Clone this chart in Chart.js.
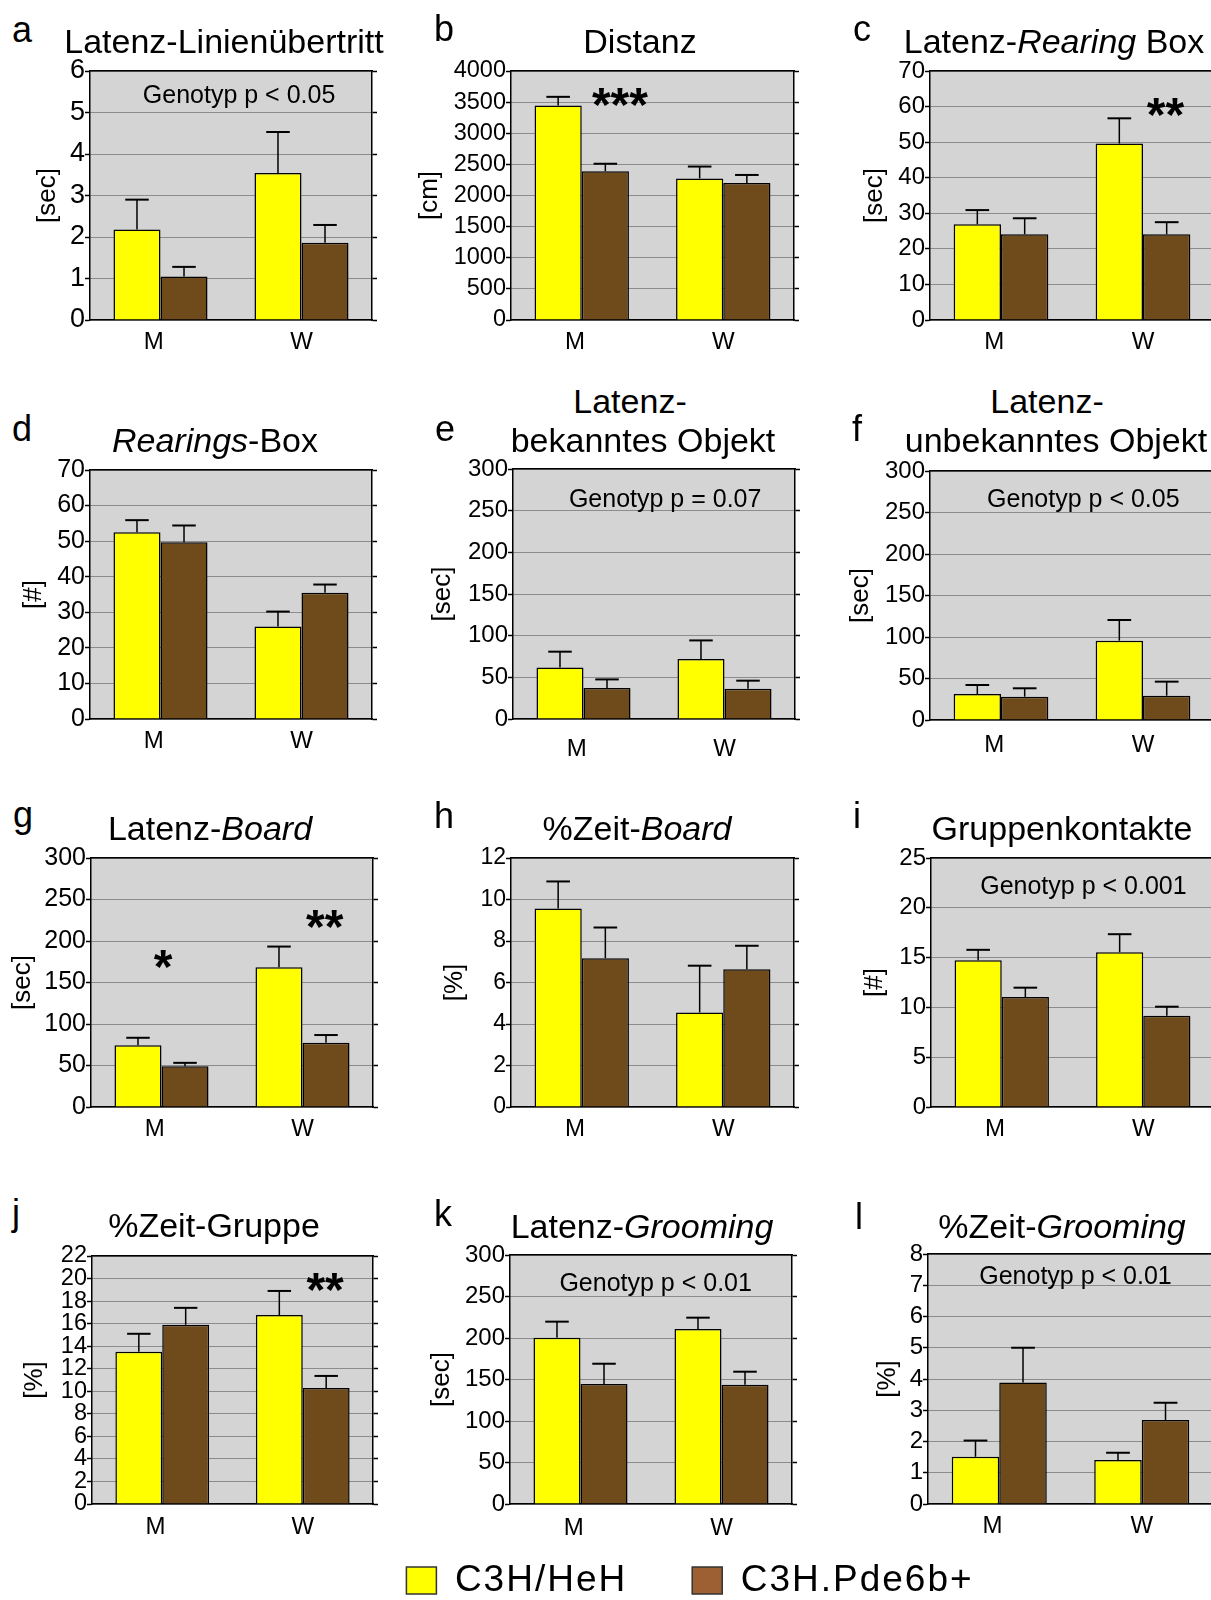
<!DOCTYPE html>
<html><head><meta charset="utf-8">
<script src="https://cdn.jsdelivr.net/npm/chart.js@4/dist/chart.umd.min.js"></script>
<style>
html,body{margin:0;padding:0;background:#fff;overflow:hidden;width:1211px;height:1600px;}
body{position:relative;font-family:"Liberation Sans",Arial,sans-serif;color:#000;}
canvas{position:absolute;}
.t{position:absolute;font-size:34px;line-height:34px;white-space:nowrap;transform:translateX(-50%);z-index:2;}
.l{position:absolute;font-size:36px;line-height:36px;z-index:2;}
i{font-style:italic;}
</style></head><body>
<div class="l" style="left:12px;top:12px">a</div>
<div class="t" style="left:224px;top:24px">Latenz-Linienübertritt</div>
<div class="l" style="left:434px;top:11px">b</div>
<div class="t" style="left:640px;top:24px">Distanz</div>
<div class="l" style="left:853px;top:11px">c</div>
<div class="t" style="left:1054px;top:24px">Latenz-<i>Rearing</i> Box</div>

<div class="l" style="left:12px;top:411px">d</div>
<div class="t" style="left:215px;top:423px"><i>Rearings</i>-Box</div>
<div class="l" style="left:435px;top:411px">e</div>
<div class="t" style="left:630px;top:384px">Latenz-</div>
<div class="t" style="left:643px;top:423px">bekanntes Objekt</div>
<div class="l" style="left:852px;top:411px">f</div>
<div class="t" style="left:1047px;top:384px">Latenz-</div>
<div class="t" style="left:1056px;top:423px">unbekanntes Objekt</div>

<div class="l" style="left:13px;top:797px">g</div>
<div class="t" style="left:210px;top:811px">Latenz-<i>Board</i></div>
<div class="l" style="left:434px;top:798px">h</div>
<div class="t" style="left:637px;top:811px">%Zeit-<i>Board</i></div>
<div class="l" style="left:853px;top:798px">i</div>
<div class="t" style="left:1062px;top:811px">Gruppenkontakte</div>

<div class="l" style="left:12px;top:1195px">j</div>
<div class="t" style="left:214px;top:1208px">%Zeit-Gruppe</div>
<div class="l" style="left:434px;top:1196px">k</div>
<div class="t" style="left:642px;top:1209px">Latenz-<i>Grooming</i></div>
<div class="l" style="left:855px;top:1199px">l</div>
<div class="t" style="left:1062px;top:1209px">%Zeit-<i>Grooming</i></div>

<script>
// ---------- data ----------
const categories = ['M', 'W'];
const seriesNames = ['C3H/HeH', 'C3H.Pde6b+'];

// a Latenz-Linienübertritt
const aHeH = [2.18, 3.54], aHeHErr = [0.72, 0.99];
const aPde = [1.05, 1.86], aPdeErr = [0.23, 0.43];
// b Distanz
const bHeH = [3445, 2275], bHeHErr = [140, 190];
const bPde = [2390, 2200], bPdeErr = [120, 130];
// c Latenz-Rearing Box
const cHeH = [26.9, 49.6], cHeHErr = [4.0, 7.1];
const cPde = [24.1, 24.1], cPdeErr = [4.5, 3.4];
// d Rearings-Box
const dHeH = [52.5, 26.0], dHeHErr = [3.4, 4.2];
const dPde = [49.7, 35.5], dPdeErr = [4.7, 2.3];
// e Latenz-bekanntes Objekt
const eHeH = [61.9, 72.0], eHeHErr = [18.9, 22.3];
const ePde = [37.2, 36.4], ePdeErr = [10.3, 9.6];
// f Latenz-unbekanntes Objekt
const fHeH = [31.3, 95.6], fHeHErr = [10.9, 24.9];
const fPde = [28.1, 29.3], fPdeErr = [10.1, 16.9];
// g Latenz-Board
const gHeH = [74.5, 168.4], gHeHErr = [8.9, 24.9];
const gPde = [49.2, 77.4], gPdeErr = [4.0, 9.3];
// h %Zeit-Board
const hHeH = [9.57, 4.56], hHeHErr = [1.30, 2.25];
const hPde = [7.17, 6.64], hPdeErr = [1.48, 1.13];
// i Gruppenkontakte
const iHeH = [14.74, 15.54], iHeHErr = [1.04, 1.81];
const iPde = [11.04, 9.16], iPdeErr = [0.94, 0.91];
// j %Zeit-Gruppe
const jHeH = [13.5, 16.77], jHeHErr = [1.6, 2.13];
const jPde = [15.9, 10.3], jPdeErr = [1.5, 1.06];
// k Latenz-Grooming
const kHeH = [200.4, 210.8], kHeHErr = [19.3, 13.7];
const kPde = [144.6, 143.8], kPdeErr = [24.4, 15.6];
// l %Zeit-Grooming
const lHeH = [1.51, 1.41], lHeHErr = [0.52, 0.23];
const lPde = [3.89, 2.69], lPdeErr = [1.11, 0.55];

// axes (tick ranges and units)
const yMaxes = [6, 4000, 70, 70, 300, 300, 300, 12, 25, 22, 300, 8];
const ySteps = [1, 500, 10, 10, 50, 50, 50, 2, 5, 2, 50, 1];
const yUnits = ['[sec]', '[cm]', '[sec]', '[#]', '[sec]', '[sec]', '[sec]', '[%]', '[#]', '[%]', '[sec]', '[%]'];

// statistics notes
const notes = [
  ['Genotyp p < 0.05'], ['***'], ['**'], [], ['Genotyp p = 0.07'], ['Genotyp p < 0.05'],
  ['*', '**'], [], ['Genotyp p < 0.001'], ['**'], ['Genotyp p < 0.01'], ['Genotyp p < 0.01']
];

// ---------- layout (positions / sizes only) ----------
const layoutCfg = [
  {L:90,  T:71,   W:282, H:249, tf:27,   xPad:8,    tp:42.4, at:[[0.557,5.44]]},
  {L:511, T:71,   W:283, H:249, tf:23.5, xPad:8,    tp:3.4,  at:[[0.27,3642]]},
  {L:930, T:71,   W:284, H:249, tf:24,   xPad:8,    tp:29.4, at:[[1.158,60.9]]},
  {L:90,  T:470,  W:282, H:249, tf:25,   xPad:8,    tp:28.4, at:[]},
  {L:513, T:469,  W:282, H:250, tf:24,   xPad:15.6, tp:13.9, at:[[0.579,265]]},
  {L:930, T:471,  W:284, H:249, tf:24,   xPad:10.6, tp:15.4, at:[[0.58,267]]},
  {L:91,  T:858,  W:282, H:249, tf:25,   xPad:8,    tp:15.9, at:[[0.012,183],[1.157,231.6]]},
  {L:511, T:858,  W:283, H:249, tf:23,   xPad:8,    tp:28.4, at:[]},
  {L:931, T:858,  W:283, H:249, tf:24,   xPad:8,    tp:28.4, at:[[0.577,22.3]]},
  {L:92,  T:1256, W:281, H:248, tf:23.5, xPad:8.6,  tp:27.4, at:[[1.159,20.0]]},
  {L:510, T:1255, W:282, H:249, tf:24,   xPad:9.6,  tp:16.4, at:[[0.533,267.8]]},
  {L:928, T:1254, W:285, H:250, tf:24,   xPad:8,    tp:44.0, at:[[0.535,7.32]]}
];

const panelData = [
  [aHeH, aHeHErr, aPde, aPdeErr], [bHeH, bHeHErr, bPde, bPdeErr], [cHeH, cHeHErr, cPde, cPdeErr],
  [dHeH, dHeHErr, dPde, dPdeErr], [eHeH, eHeHErr, ePde, ePdeErr], [fHeH, fHeHErr, fPde, fPdeErr],
  [gHeH, gHeHErr, gPde, gPdeErr], [hHeH, hHeHErr, hPde, hPdeErr], [iHeH, iHeHErr, iPde, iPdeErr],
  [jHeH, jHeHErr, jPde, jPdeErr], [kHeH, kHeHErr, kPde, kPdeErr], [lHeH, lHeHErr, lPde, lPdeErr]
];

const FONT = '"Liberation Sans", Arial, Helvetica, sans-serif';
Chart.defaults.font.family = FONT;
Chart.defaults.color = '#000';
const YELLOW = '#FFFF00', BROWN = '#6F4A1B', PLOTBG = '#D4D4D4';

const bgPlugin = {id:'plotbg', beforeDraw(chart){
  const a = chart.chartArea, ctx = chart.ctx;
  ctx.save(); ctx.fillStyle = PLOTBG; ctx.fillRect(a.left, a.top, a.right - a.left, a.bottom - a.top); ctx.restore();
}};

const errPlugin = {id:'errbars', afterDatasetsDraw(chart){
  const ctx = chart.ctx, ys = chart.scales.y;
  chart.data.datasets.forEach((ds, di) => {
    const meta = chart.getDatasetMeta(di);
    meta.data.forEach((bar, i) => {
      const top = ys.getPixelForValue(ds.data[i]);
      const et = ys.getPixelForValue(ds.data[i] + ds.errors[i]);
      const hw = bar.width / 4;
      ctx.save(); ctx.strokeStyle = '#000';
      ctx.lineWidth = 1.5; ctx.beginPath(); ctx.moveTo(bar.x, top); ctx.lineTo(bar.x, et); ctx.stroke();
      ctx.lineWidth = 2; ctx.beginPath(); ctx.moveTo(bar.x - hw, et); ctx.lineTo(bar.x + hw, et); ctx.stroke();
      ctx.restore();
    });
  });
}};

function annotPlugin(texts, pos){
  return {id:'annot', afterDatasetsDraw(chart){
    const ctx = chart.ctx, xs = chart.scales.x, ys = chart.scales.y;
    const p0 = xs.getPixelForValue(0), p1 = xs.getPixelForValue(1);
    texts.forEach((t, k) => {
      const x = p0 + pos[k][0] * (p1 - p0), yc = ys.getPixelForValue(pos[k][1]);
      const star = /^\*+$/.test(t);
      const fs = star ? 48 : 25;
      ctx.save();
      ctx.font = (star ? 'bold ' : '') + fs + 'px ' + FONT;
      ctx.fillStyle = '#000'; ctx.textAlign = 'center'; ctx.textBaseline = 'alphabetic';
      ctx.fillText(t, x, yc + (star ? 0.58 : 0.36) * fs);
      ctx.restore();
    });
  }};
}

function makePanel(idx){
  const c = layoutCfg[idx];
  const [heh, hehErr, pde, pdeErr] = panelData[idx];
  const cv = document.createElement('canvas');
  const cw = c.W + 110, ch = c.H + 70;
  cv.width = cw; cv.height = ch;
  cv.style.left = (c.L - 100) + 'px'; cv.style.top = (c.T - 20) + 'px';
  cv.style.width = cw + 'px'; cv.style.height = ch + 'px';
  document.body.appendChild(cv);
  new Chart(cv, {
    type: 'bar',
    data: {labels: categories, datasets: [
      {label: seriesNames[0], data: heh, errors: hehErr, backgroundColor: YELLOW, borderColor: '#000', borderWidth: 1.5, xAxisID: 'x', yAxisID: 'y'},
      {label: seriesNames[1], data: pde, errors: pdeErr, backgroundColor: BROWN, borderColor: '#000', borderWidth: 1.5, xAxisID: 'x', yAxisID: 'y'}
    ]},
    options: {
      responsive: false, animation: false, events: [],
      layout: {padding: {top: 20, left: 0, right: 4, bottom: 0}},
      datasets: {bar: {categoryPercentage: 0.667, barPercentage: 1.0}},
      plugins: {legend: {display: false}, tooltip: {enabled: false}},
      scales: {
        x: {type: 'category', position: 'bottom', grid: {display: false, drawTicks: false},
            border: {display: true, color: '#000', width: 1.5},
            ticks: {font: {size: 24}, color: '#000', padding: c.xPad,
                    callback(v, i){ const s = this.getLabelForValue(v); return i === 0 ? s + '  ' : s; }},
            afterFit(s){ s.height = 50; }},
        xT: {type: 'category', position: 'top', grid: {display: false, drawTicks: false},
            ticks: {display: false}, border: {display: true, color: '#000', width: 1.5},
            afterFit(s){ s.height = 0; }},
        y: {type: 'linear', position: 'left', min: 0, max: yMaxes[idx],
            ticks: {stepSize: ySteps[idx], autoSkip: false, font: {size: c.tf}, color: '#000', padding: 0,
                    callback(v){ return String(v); }},
            grid: {color: '#444', lineWidth: 1, tickLength: 5, tickColor: '#000', tickWidth: 1.5},
            border: {display: true, color: '#000', width: 1.5, dash: [1, 1]},
            title: {display: true, text: yUnits[idx], font: {size: 26}, color: '#000', padding: {top: c.tp, bottom: 0}},
            afterFit(s){ s.width = 100; }},
        yR: {type: 'linear', position: 'right', min: 0, max: yMaxes[idx],
            ticks: {display: false, stepSize: ySteps[idx], autoSkip: false},
            grid: {drawOnChartArea: false, tickLength: 5, tickColor: '#000', tickWidth: 1.5},
            border: {display: true, color: '#000', width: 1.5},
            afterFit(s){ s.width = 6; }}
      }
    },
    plugins: [bgPlugin, errPlugin, annotPlugin(notes[idx], c.at)]
  });
}

for (let i = 0; i < 12; i++) makePanel(i);

// ---------- legend ----------
const LS = '2px';
const lsPlugin = {id:'ls',
  beforeInit(c){ c.ctx.letterSpacing = LS; },
  beforeLayout(c){ c.ctx.letterSpacing = LS; },
  beforeDraw(c){ c.ctx.letterSpacing = LS; }};
const lg = document.createElement('canvas');
lg.width = 800; lg.height = 220;
lg.style.left = '290px'; lg.style.top = '1497px';
lg.style.width = '800px'; lg.style.height = '220px';
document.body.appendChild(lg);
new Chart(lg, {
  type: 'bar',
  data: {labels: categories, datasets: [
    {label: seriesNames[0], data: [], backgroundColor: '#FFFF00', borderColor: '#333', borderWidth: 1.5},
    {label: seriesNames[1], data: [], backgroundColor: '#9C6033', borderColor: '#333', borderWidth: 1.5}
  ]},
  options: {
    responsive: false, animation: false, events: [],
    scales: {x: {display: false}, y: {display: false}},
    plugins: {tooltip: {enabled: false},
      legend: {display: true, position: 'top',
        labels: {font: {size: 37}, color: '#000', boxWidth: 30, boxHeight: 27, padding: 65}}}
  },
  plugins: [lsPlugin]
});
</script>
</body></html>
